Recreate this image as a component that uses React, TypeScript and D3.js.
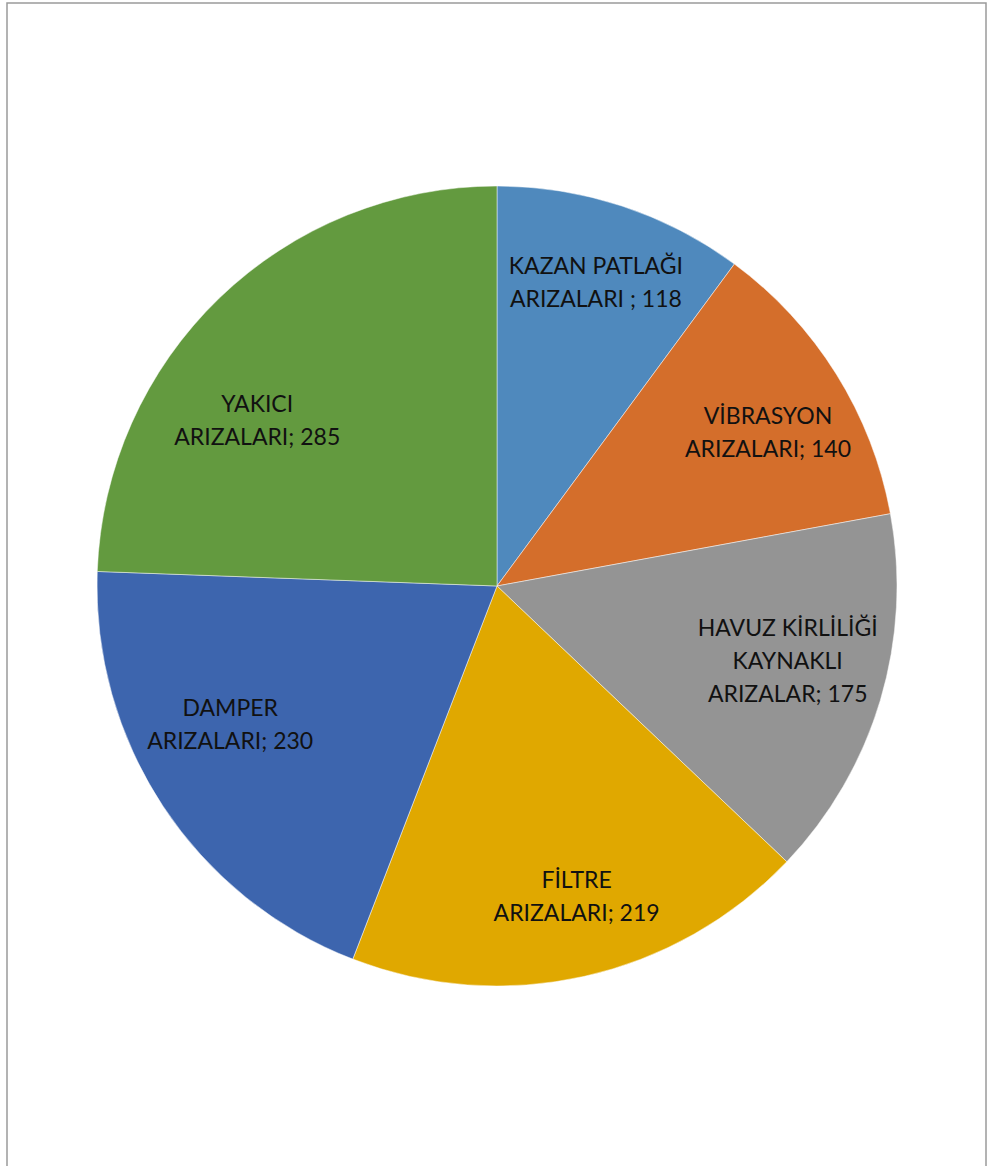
import React from "react";
import * as d3 from "d3";

const categories: string[][] = [
  ["KAZAN PATLAĞI", "ARIZALARI ; 118"],
  ["VİBRASYON", "ARIZALARI; 140"],
  ["HAVUZ KİRLİLİĞİ", "KAYNAKLI", "ARIZALAR; 175"],
  ["FİLTRE", "ARIZALARI; 219"],
  ["DAMPER", "ARIZALARI; 230"],
  ["YAKICI", "ARIZALARI; 285"],
];
const values: number[] = [118, 140, 175, 219, 230, 285];
const colors: string[] = ["#4F89BD", "#D46E2B", "#949494", "#E0A800", "#3D65AE", "#639A3F"];

// layout: label anchor (angle in degrees from 12 o'clock, radius fraction)
const labelAnchors: [number, number][] = [
  [18, 0.8],
  [60.3, 0.78],
  [104.3, 0.75],
  [165.6, 0.8],
  [242.8, 0.75],
  [304.8, 0.73],
];

const W = 988;
const H = 1166;
const cx = 497;
const cy = 586;
const R = 400;
const lineH = 33;

export default function App() {
  const pie = d3.pie<number>().sort(null).value((d) => d)(values);
  const arc = d3.arc<d3.PieArcDatum<number>>().innerRadius(0).outerRadius(R);
  return (
    <svg
      width={W}
      height={H}
      style={{ position: "absolute", left: 0, top: 0, display: "block" }}
      fontFamily="Lato, 'Open Sans', sans-serif"
    >
      <rect x={0} y={0} width={W} height={H} fill="#fff" />
      <rect x={7} y={3} width={979} height={H + 10} fill="none" stroke="#9a9a9a" strokeWidth={1.5} />
      <g transform={`translate(${cx},${cy})`}>
        {pie.map((p, i) => (
          <path key={i} d={arc(p) || ""} fill={colors[i]} stroke="#ffffff" strokeOpacity={0.6} strokeWidth={0.8} />
        ))}
        {pie.map((p, i) => {
          const [ang, rf] = labelAnchors[i];
          const a = (ang * Math.PI) / 180;
          const x = Math.sin(a) * R * rf;
          const y = -Math.cos(a) * R * rf;
          const lines = categories[i];
          const y0 = y - ((lines.length - 1) * lineH) / 2;
          return (
            <text key={i} x={x} y={y0} textAnchor="middle" fontSize={23} fill="#111" dominantBaseline="central">
              {lines.map((l, j) => (
                <tspan key={j} x={x} y={y0 + j * lineH}>
                  {l}
                </tspan>
              ))}
            </text>
          );
        })}
      </g>
    </svg>
  );
}
